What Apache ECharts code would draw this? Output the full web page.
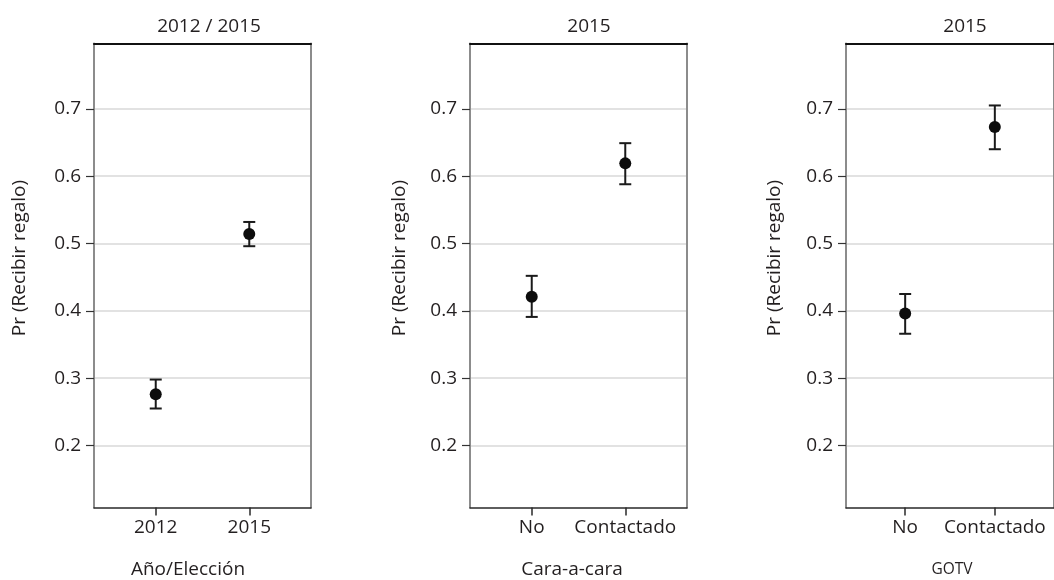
<!DOCTYPE html>
<html><head><meta charset="utf-8">
<script src="https://cdn.jsdelivr.net/npm/echarts@6/dist/echarts.min.js"></script>
<style>html,body{margin:0;padding:0;background:#fff}#c{width:1054px;height:580px}</style>
</head><body><div id="c"></div>
<script>
// ---- data ----
const panelTitles = ['2012 / 2015', '2015', '2015'];
const panelXNames = ['Año/Elección', 'Cara-a-cara', 'GOTV'];
const yName = 'Pr (Recibir regalo)';
const categories = [['2012', '2015'], ['No', 'Contactado'], ['No', 'Contactado']];
const estimates = [[0.276, 0.514], [0.421, 0.619], [0.396, 0.673]];
const lowerCI = [[0.255, 0.496], [0.391, 0.588], [0.366, 0.640]];
const upperCI = [[0.298, 0.532], [0.452, 0.649], [0.425, 0.705]];
const yTickValues = [0.2, 0.3, 0.4, 0.5, 0.6, 0.7];

// ---- layout / style ----
const FONT = '"Open Sans", "Noto Sans", sans-serif';
const TEXT = '#231f20';
const FS = 19;
const L = { lefts: [94, 470, 846], top: 43.5, width: 217, height: 464,
  xMin: -0.66, xMax: 1.66, yMin: 0.108, yMax: 0.797,
  titleX: [204, 584, 960], titleY: 22,
  xNameX: [188, 572, 952], xNameY: 570, xNameSize: [FS, FS, 15.5],
  yNameX: [20, 400, 775], yNameY: 258 };

const grid = [], xAxis = [], yAxis = [], series = [], title = [], graphic = [];
for (let p = 0; p < 3; p++) {
  grid.push({ left: L.lefts[p], top: L.top, width: L.width, height: L.height });
  const idx = [0, 1];
  xAxis.push({ type: 'value', gridIndex: p, min: L.xMin, max: L.xMax, position: 'bottom',
    axisLine: { show: true, onZero: false, lineStyle: { color: '#2a2a2a', width: 1.5 } },
    axisTick: { show: true, length: 8, customValues: idx, lineStyle: { color: '#2a2a2a', width: 1.5 } },
    axisLabel: { show: true, customValues: idx, margin: 11, color: TEXT, fontSize: FS, fontFamily: FONT,
      formatter: v => categories[p][Math.round(v)] },
    splitLine: { show: false } });
  xAxis.push({ type: 'value', gridIndex: p, min: L.xMin, max: L.xMax, position: 'top',
    axisLine: { show: true, onZero: false, lineStyle: { color: '#111', width: 2 } },
    axisTick: { show: false }, axisLabel: { show: false }, splitLine: { show: false } });
  yAxis.push({ type: 'value', gridIndex: p, min: L.yMin, max: L.yMax, position: 'left',
    axisLine: { show: true, onZero: false, lineStyle: { color: '#8c8c8c', width: 2 } },
    axisTick: { show: true, length: 8, customValues: yTickValues, lineStyle: { color: '#333', width: 1.2 } },
    axisLabel: { show: true, customValues: yTickValues, margin: 13, color: TEXT, fontSize: FS, fontFamily: FONT,
      formatter: v => v.toFixed(1) },
    splitLine: { show: true, lineStyle: { color: '#d9d9d9', width: 1.5 } } });
  yAxis.push({ type: 'value', gridIndex: p, min: L.yMin, max: L.yMax, position: 'right',
    axisLine: { show: true, onZero: false, lineStyle: { color: '#8c8c8c', width: 2 } },
    axisTick: { show: false }, axisLabel: { show: false }, splitLine: { show: false } });

  series.push({ type: 'custom', xAxisIndex: 2 * p, yAxisIndex: 2 * p, z: 3,
    data: estimates[p].map((v, i) => [i, lowerCI[p][i], upperCI[p][i]]),
    encode: { x: 0, y: [1, 2] },
    renderItem: function (params, api) {
      const x = api.value(0), lo = api.value(1), hi = api.value(2);
      const a = api.coord([x, lo]), b = api.coord([x, hi]);
      const cap = 6, st = { stroke: '#1a1a1a', lineWidth: 2 };
      return { type: 'group', children: [
        { type: 'line', shape: { x1: a[0], y1: a[1], x2: b[0], y2: b[1] }, style: st },
        { type: 'line', shape: { x1: a[0] - cap, y1: a[1], x2: a[0] + cap, y2: a[1] }, style: st },
        { type: 'line', shape: { x1: b[0] - cap, y1: b[1], x2: b[0] + cap, y2: b[1] }, style: st }
      ] };
    } });
  series.push({ type: 'scatter', xAxisIndex: 2 * p, yAxisIndex: 2 * p, z: 4,
    symbol: 'circle', symbolSize: 12, itemStyle: { color: '#0d0d0d', opacity: 1 },
    data: estimates[p].map((v, i) => [i, v]) });

  title.push({ text: panelTitles[p], left: L.titleX[p], top: L.titleY, textAlign: 'center', textVerticalAlign: 'middle',
    textStyle: { fontFamily: FONT, fontSize: FS, fontWeight: 'normal', color: TEXT } });
  graphic.push({ type: 'text', x: L.xNameX[p], y: L.xNameY,
    style: { text: panelXNames[p], fontFamily: FONT, fontSize: L.xNameSize[p], fill: TEXT, align: 'center', verticalAlign: 'middle' } });
  graphic.push({ type: 'text', x: L.yNameX[p], y: L.yNameY, rotation: Math.PI / 2,
    style: { text: yName, fontFamily: FONT, fontSize: FS, fill: TEXT, align: 'center', verticalAlign: 'middle' } });
}

const chart = echarts.init(document.getElementById('c'), null, { renderer: 'canvas' });
chart.setOption({ animation: false, backgroundColor: '#fff', title, grid, xAxis, yAxis, series, graphic });
</script>
</body></html>
